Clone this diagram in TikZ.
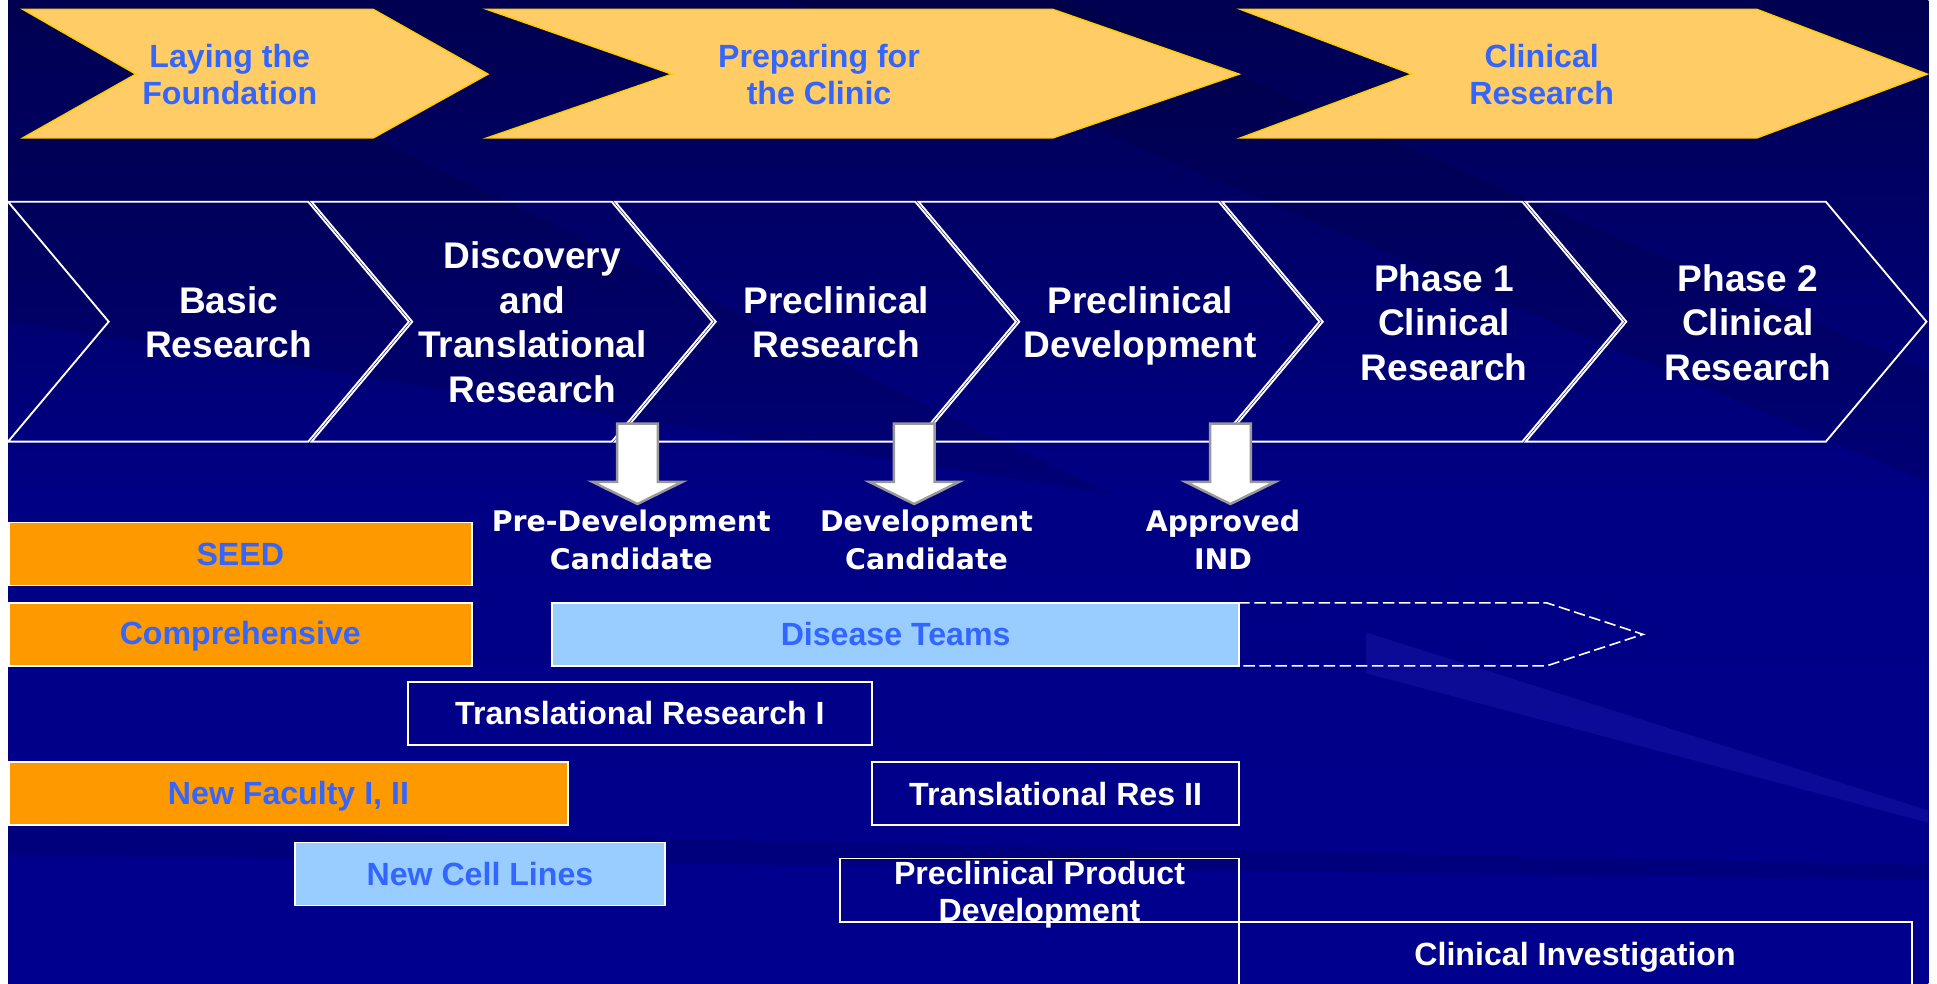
\documentclass[tikz,border=0pt]{standalone}
\usepackage{fontspec}
\newfontfamily\arialfont{Liberation Sans}
\newfontfamily\verdanafont{DejaVu Sans}
\usepackage{tikz}

\begin{document}
\begin{tikzpicture}[x=1pt,y=-1pt,line cap=rect,
    yellowchev/.style={fill=custcol_ff_cc_66, draw=custcol_ff_cc_00, line width=1.2pt},
    stagechev/.style={draw=white, line width=1.5pt},
    milearrow/.style={fill=white, draw=custcol_99_99_99, line width=2pt},
    bannertext/.style={inner sep=0, outer sep=0, custcol_33_66_ff, align=center, font=\slidefontA},
    stagetext/.style={inner sep=0, outer sep=0, white, align=center, font=\slidefontB},
    miletext/.style={inner sep=0, outer sep=0, white, align=center, font=\slidefontC},
    barbox/.style={inner sep=0, outer sep=0, draw=white, line width=1.5pt, minimum height=51, align=center, font=\slidefontA},
    orangebar/.style={barbox, fill=custcol_ff_99_00, text=custcol_33_66_ff},
    bluebar/.style={barbox, fill=custcol_99_cc_ff, text=custcol_33_66_ff},
    outlinebar/.style={barbox, text=white}]
  \def\slidefontA{\arialfont\bfseries\fontsize{26pt}{30pt}\selectfont}
  \def\slidefontB{\arialfont\bfseries\fontsize{30pt}{36pt}\selectfont}
  \def\slidefontC{\verdanafont\bfseries\fontsize{23pt}{31pt}\selectfont}
  \definecolor{custcol_ff_cc_66}{RGB}{255, 204, 102}
  \definecolor{custcol_ff_cc_00}{RGB}{255, 204, 0}
  \definecolor{custcol_33_66_ff}{RGB}{51, 102, 255}
  \definecolor{custcol_ff_99_00}{RGB}{255, 153, 0}
  \definecolor{custcol_99_cc_ff}{RGB}{153, 204, 255}
  \definecolor{custcol_99_99_99}{RGB}{153, 153, 153}
  \definecolor{custcol_00_00_50}{RGB}{0, 0, 80}
  \definecolor{custcol_00_00_84}{RGB}{0, 0, 132}
  \definecolor{custcol_00_00_8e}{RGB}{0, 0, 142}
  \definecolor{custcol_33_33_cc}{RGB}{51, 51, 204}
  \useasboundingbox (0,0) rectangle (1568,796);
  % backdrop
  \fill [white] (0,0) rectangle (1568,796);
  \shade [top color=custcol_00_00_50, bottom color=custcol_00_00_8e, middle color=custcol_00_00_84] (6.5,0) rectangle (1561,796);
  \fill [black, opacity=0.1] (640,0) -- (860,0) -- (1561,300) -- (1561,390) -- cycle;
  \fill [black, opacity=0.1] (6.5,110) -- (300,110) -- (900,400) -- (6.5,260) -- cycle;
  \fill [black, opacity=0.1] (6.5,668) -- (1561,700) -- (1561,712) -- (6.5,692) -- cycle;
  \fill [custcol_33_33_cc, opacity=0.22] (1106,512) -- (1561,656) -- (1561,666) -- (1106,545) -- cycle;
  % phase banners
  \draw [yellowchev] (18.4,7.5) -- (302,7.5) -- (395,60) -- (302,111.7) -- (18.4,111.7) -- (110,60) -- cycle;
  \draw [yellowchev] (394,7.5) -- (852,7.5) -- (1003,60) -- (852,111.7) -- (394,111.7) -- (544,60) -- cycle;
  \draw [yellowchev] (1004,7.5) -- (1422,7.5) -- (1560,60) -- (1422,111.7) -- (1004,111.7) -- (1143,60) -- cycle;
  \node [bannertext] (laying) at (186,60) {Laying the\\Foundation};
  \node [bannertext] (preparing) at (663,60) {Preparing for\\the Clinic};
  \node [bannertext] (clinicalres) at (1248,60) {Clinical\\Research};
  % stages
  \draw [stagechev] (6.5,163.3) -- (249.5,163.3) -- (331,260.4) -- (249.5,357.5) -- (6.5,357.5) -- (88,260.4) -- cycle;
  \draw [stagechev] (252.2,163.3) -- (495.2,163.3) -- (576.7,260.4) -- (495.2,357.5) -- (252.2,357.5) -- (333.7,260.4) -- cycle;
  \draw [stagechev] (497.9,163.3) -- (740.9,163.3) -- (822.4,260.4) -- (740.9,357.5) -- (497.9,357.5) -- (579.4,260.4) -- cycle;
  \draw [stagechev] (743.6,163.3) -- (986.6,163.3) -- (1068.1,260.4) -- (986.6,357.5) -- (743.6,357.5) -- (825.1,260.4) -- cycle;
  \draw [stagechev] (989.3,163.3) -- (1232.3,163.3) -- (1313.8,260.4) -- (1232.3,357.5) -- (989.3,357.5) -- (1070.8,260.4) -- cycle;
  \draw [stagechev] (1235,163.3) -- (1478,163.3) -- (1559.5,260.4) -- (1478,357.5) -- (1235,357.5) -- (1316.5,260.4) -- cycle;
  \node [stagetext] (basic) at (185,261) {Basic\\Research};
  \node [stagetext] (discovery) at (431,261) {Discovery\\and\\Translational\\Research};
  \node [stagetext] (preclinres) at (677,261) {Preclinical\\Research};
  \node [stagetext] (preclindev) at (923,264) {Preclinical\\Development};
  \node [stagetext] (phaseone) at (1169,261) {Phase 1\\Clinical\\Research};
  \node [stagetext] (phasetwo) at (1415,261) {Phase 2\\Clinical\\Research};
  % milestones
  \draw [milearrow] (499.5,343) -- (532.5,343) -- (532.5,390) -- (552.5,390) -- (516,408) -- (479.5,390) -- (499.5,390) -- cycle;
  \draw [milearrow] (723.5,343) -- (756.5,343) -- (756.5,390) -- (776.5,390) -- (740,408) -- (703.5,390) -- (723.5,390) -- cycle;
  \draw [milearrow] (979.5,343) -- (1012.5,343) -- (1012.5,390) -- (1032.5,390) -- (996,408) -- (959.5,390) -- (979.5,390) -- cycle;
  \node [miletext] (predev) at (511,437) {Pre-Development\\Candidate};
  \node [miletext] (devcand) at (750,437) {Development\\Candidate};
  \node [miletext] (ind) at (990,437) {Approved\\IND};
  % programs
  \node [orangebar, minimum width=375] (seed) at (194.5,448.5) {SEED};
  \node [orangebar, minimum width=375, text depth=2pt] (comprehensive) at (194.5,513.5) {Comprehensive};
  \node [bluebar, minimum width=556] (disease) at (725,513.5) {Disease Teams};
  \coordinate (diseasetop) at (1252,488);
  \coordinate (diseasetip) at (1330,513.5);
  \coordinate (diseasebot) at (1252,539);
  \draw [white, line width=1.3pt, dash pattern=on 8pt off 5pt] (disease.north east) -- (diseasetop) -- (diseasetip) -- (diseasebot) -- (disease.south east);
  \node [outlinebar, minimum width=376] (transone) at (518,577.5) {Translational Research I};
  \node [orangebar, minimum width=453, text depth=2pt] (newfaculty) at (233.5,642.5) {New Faculty I, II};
  \node [outlinebar, minimum width=297] (transtwo) at (854.5,642.5) {Translational Res II};
  \node [bluebar, minimum width=299] (celllines) at (388.5,707.5) {New Cell Lines};
  \draw [white, line width=1.5pt] (680,695) rectangle (1003,746);
  \node [inner sep=0, outer sep=0, white, align=center, font=\slidefontA] (preclinprod) at (841.5,724) {Preclinical Product\\Development};
  \draw [white, line width=1.5pt] (1003,796) -- (1003,746) -- (1548,746) -- (1548,796);
  \node [inner sep=0, outer sep=0, white, font=\slidefontA] (clininv) at (1275,775) {Clinical Investigation};
\end{tikzpicture}
\end{document}
